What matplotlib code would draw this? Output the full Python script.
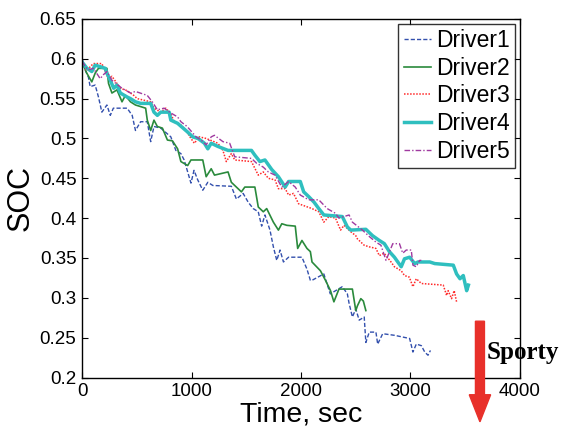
import matplotlib
matplotlib.use('Agg')
import matplotlib.pyplot as plt
import matplotlib.patches as mpatches
import numpy as np

plt.rcParams['font.family'] = ['Liberation Sans', 'DejaVu Sans']

# Time (sec) and SOC values, one pair of arrays per driver
t1 = [0, 28, 58, 74, 120, 150, 181, 227, 258, 286, 412, 458, 488, 535, 596, 627, 657, 719, 811, 857,
      903, 933, 965, 995, 1023, 1057, 1103, 1149, 1195, 1364, 1410, 1472, 1518, 1564, 1610, 1641, 1671,
      1717, 1748, 1779, 1809, 1840, 1887, 2009, 2055, 2086, 2101, 2209, 2268, 2378, 2424, 2440, 2470,
      2501, 2532, 2578, 2593, 2624, 2685, 2701, 2747, 2854, 2993, 3023, 3054, 3100, 3131, 3161, 3183]
soc1 = [0.601, 0.586, 0.577, 0.565, 0.567, 0.552, 0.533, 0.542, 0.529, 0.538, 0.538, 0.529, 0.510, 0.521,
        0.521, 0.496, 0.515, 0.513, 0.502, 0.485, 0.481, 0.473, 0.458, 0.444, 0.460, 0.448, 0.435, 0.445,
        0.441, 0.440, 0.424, 0.431, 0.420, 0.412, 0.408, 0.390, 0.404, 0.385, 0.364, 0.347, 0.360, 0.345,
        0.351, 0.351, 0.336, 0.322, 0.322, 0.330, 0.305, 0.314, 0.305, 0.293, 0.276, 0.286, 0.272, 0.276,
        0.244, 0.257, 0.257, 0.242, 0.255, 0.253, 0.249, 0.232, 0.242, 0.240, 0.232, 0.228, 0.234]

t2 = [0, 43, 89, 120, 150, 227, 242, 273, 319, 365, 396, 442, 488, 535, 581, 596, 627, 657, 688, 734,
      780, 826, 873, 903, 965, 995, 1103, 1134, 1180, 1210, 1334, 1364, 1456, 1487, 1579, 1594, 1610,
      1656, 1687, 1748, 1794, 1825, 1871, 1948, 1970, 2009, 2055, 2086, 2101, 2178, 2224, 2270, 2301,
      2347, 2470, 2501, 2516, 2547, 2570, 2593]
soc2 = [0.596, 0.582, 0.571, 0.582, 0.588, 0.588, 0.569, 0.557, 0.561, 0.546, 0.554, 0.546, 0.542, 0.540,
        0.538, 0.523, 0.510, 0.523, 0.515, 0.513, 0.498, 0.497, 0.487, 0.471, 0.466, 0.473, 0.473, 0.452,
        0.462, 0.454, 0.458, 0.445, 0.433, 0.439, 0.439, 0.427, 0.414, 0.408, 0.412, 0.395, 0.385, 0.393,
        0.391, 0.390, 0.362, 0.372, 0.362, 0.358, 0.345, 0.334, 0.322, 0.309, 0.295, 0.311, 0.311, 0.284,
        0.290, 0.299, 0.296, 0.284]

t3 = [0, 40, 89, 104, 181, 212, 242, 273, 319, 350, 412, 473, 504, 627, 657, 719, 765, 811, 842, 903,
      950, 995, 1026, 1072, 1134, 1241, 1287, 1318, 1364, 1395, 1548, 1610, 1656, 1702, 1763, 1794, 1856,
      1887, 1932, 1979, 2101, 2163, 2209, 2255, 2316, 2362, 2393, 2455, 2501, 2516, 2578, 2624, 2685,
      2716, 2760, 2823, 2854, 2916, 2946, 2990, 3023, 3054, 3100, 3300, 3331, 3345, 3376, 3400, 3422]
soc3 = [0.598, 0.585, 0.592, 0.594, 0.594, 0.584, 0.575, 0.578, 0.569, 0.563, 0.560, 0.554, 0.550, 0.546,
        0.538, 0.533, 0.538, 0.531, 0.521, 0.517, 0.510, 0.500, 0.494, 0.502, 0.500, 0.494, 0.485, 0.471,
        0.481, 0.473, 0.471, 0.454, 0.458, 0.450, 0.448, 0.437, 0.437, 0.429, 0.431, 0.418, 0.412, 0.408,
        0.395, 0.402, 0.400, 0.385, 0.391, 0.383, 0.378, 0.374, 0.366, 0.364, 0.362, 0.353, 0.356, 0.345,
        0.339, 0.334, 0.328, 0.326, 0.314, 0.324, 0.318, 0.316, 0.303, 0.309, 0.299, 0.309, 0.295]

t4 = [0, 45, 89, 120, 212, 227, 258, 289, 319, 350, 412, 442, 488, 535, 627, 657, 688, 719, 796, 811,
      873, 965, 1011, 1060, 1118, 1149, 1180, 1241, 1334, 1548, 1579, 1625, 1671, 1733, 1794, 1856, 1887,
      1994, 2025, 2071, 2120, 2163, 2209, 2378, 2424, 2455, 2593, 2654, 2716, 2762, 2808, 2854, 2916,
      2946, 2993, 3039, 3069, 3177, 3223, 3392, 3422, 3453, 3483, 3514, 3530]
soc4 = [0.596, 0.588, 0.584, 0.592, 0.588, 0.582, 0.573, 0.563, 0.567, 0.557, 0.552, 0.550, 0.546, 0.544,
        0.544, 0.533, 0.529, 0.533, 0.533, 0.523, 0.519, 0.508, 0.502, 0.500, 0.494, 0.487, 0.494, 0.490,
        0.485, 0.485, 0.479, 0.471, 0.473, 0.461, 0.452, 0.439, 0.446, 0.446, 0.433, 0.427, 0.420, 0.412,
        0.404, 0.402, 0.389, 0.385, 0.386, 0.378, 0.372, 0.368, 0.358, 0.351, 0.339, 0.349, 0.351, 0.343,
        0.345, 0.345, 0.343, 0.341, 0.330, 0.324, 0.328, 0.309, 0.316]

t5 = [0, 30, 58, 104, 166, 195, 227, 273, 365, 442, 488, 596, 642, 688, 750, 811, 873, 903, 960, 1042,
      1088, 1134, 1180, 1210, 1287, 1349, 1395, 1548, 1594, 1656, 1702, 1763, 1825, 1887, 1948, 1994,
      2071, 2163, 2240, 2316, 2347, 2440, 2470, 2562, 2624, 2685, 2731, 2777, 2839, 2900, 2930, 2962,
      3008, 3023, 3054, 3084, 3100]
soc5 = [0.597, 0.590, 0.586, 0.588, 0.575, 0.580, 0.584, 0.573, 0.563, 0.557, 0.559, 0.554, 0.546, 0.536,
        0.538, 0.532, 0.527, 0.521, 0.515, 0.502, 0.498, 0.492, 0.502, 0.504, 0.496, 0.494, 0.477, 0.475,
        0.469, 0.464, 0.458, 0.454, 0.439, 0.446, 0.439, 0.429, 0.423, 0.423, 0.412, 0.406, 0.400, 0.404,
        0.395, 0.385, 0.377, 0.370, 0.366, 0.347, 0.368, 0.368, 0.356, 0.360, 0.360, 0.341, 0.339, 0.347,
        0.347]

labels = ['Driver1', 'Driver2', 'Driver3', 'Driver4', 'Driver5']
x_ticks = [0, 1000, 2000, 3000, 4000]
y_ticks = [0.2, 0.25, 0.3, 0.35, 0.4, 0.45, 0.5, 0.55, 0.6, 0.65]

fig = plt.figure(figsize=(5.62, 4.3), dpi=100)
ax = fig.add_axes([0.146, 0.122, 0.779, 0.834])

ax.plot(t1, soc1, color='#3350ad', linestyle=(0, (3, 1.5)), linewidth=1.0, label=labels[0])
ax.plot(t2, soc2, color='#2a8a3c', linestyle='-', linewidth=1.2, label=labels[1])
ax.plot(t3, soc3, color='#ff2a2a', linestyle=(0, (1, 1)), linewidth=1.1, label=labels[2])
ax.plot(t4, soc4, color='#2fbfbf', linestyle='-', linewidth=2.5, label=labels[3])
ax.plot(t5, soc5, color='#a03aa0', linestyle=(0, (4, 1.5, 1, 1.5)), linewidth=1.0, label=labels[4])

ax.set_xlim(0, 4000)
ax.set_ylim(0.2, 0.65)
ax.set_xticks(x_ticks)
ax.set_yticks(y_ticks)
ax.set_yticklabels([f'{v:g}' for v in y_ticks])
ax.tick_params(direction='in', top=True, right=True, labelsize=13.5, length=4, width=0.8, pad=4)
for s in ax.spines.values():
    s.set_linewidth(1.0)

ax.set_xlabel('Time, sec', fontsize=20.5, labelpad=1)
ax.set_ylabel('SOC', fontsize=22, labelpad=3)

leg = ax.legend(loc='upper right', fontsize=16.5, frameon=True, fancybox=False, edgecolor='black',
                handlelength=1.2, handletextpad=0.2, labelspacing=0.2, borderpad=0.25,
                borderaxespad=0.2)
leg.get_frame().set_linewidth(1.0)

# red arrow with "Sporty" note below the axes
arrow = mpatches.FancyArrow(0.854, 0.253, 0, -0.171, width=0.016, head_width=0.038,
                            head_length=0.063, length_includes_head=False,
                            color='#e8302a', transform=fig.transFigure)
fig.patches.append(arrow)
fig.text(0.865, 0.181, 'Sporty', fontsize=18, fontweight='bold',
         family=['Liberation Serif', 'DejaVu Serif'], va='center', ha='left')

plt.savefig('out.png', dpi=100)
